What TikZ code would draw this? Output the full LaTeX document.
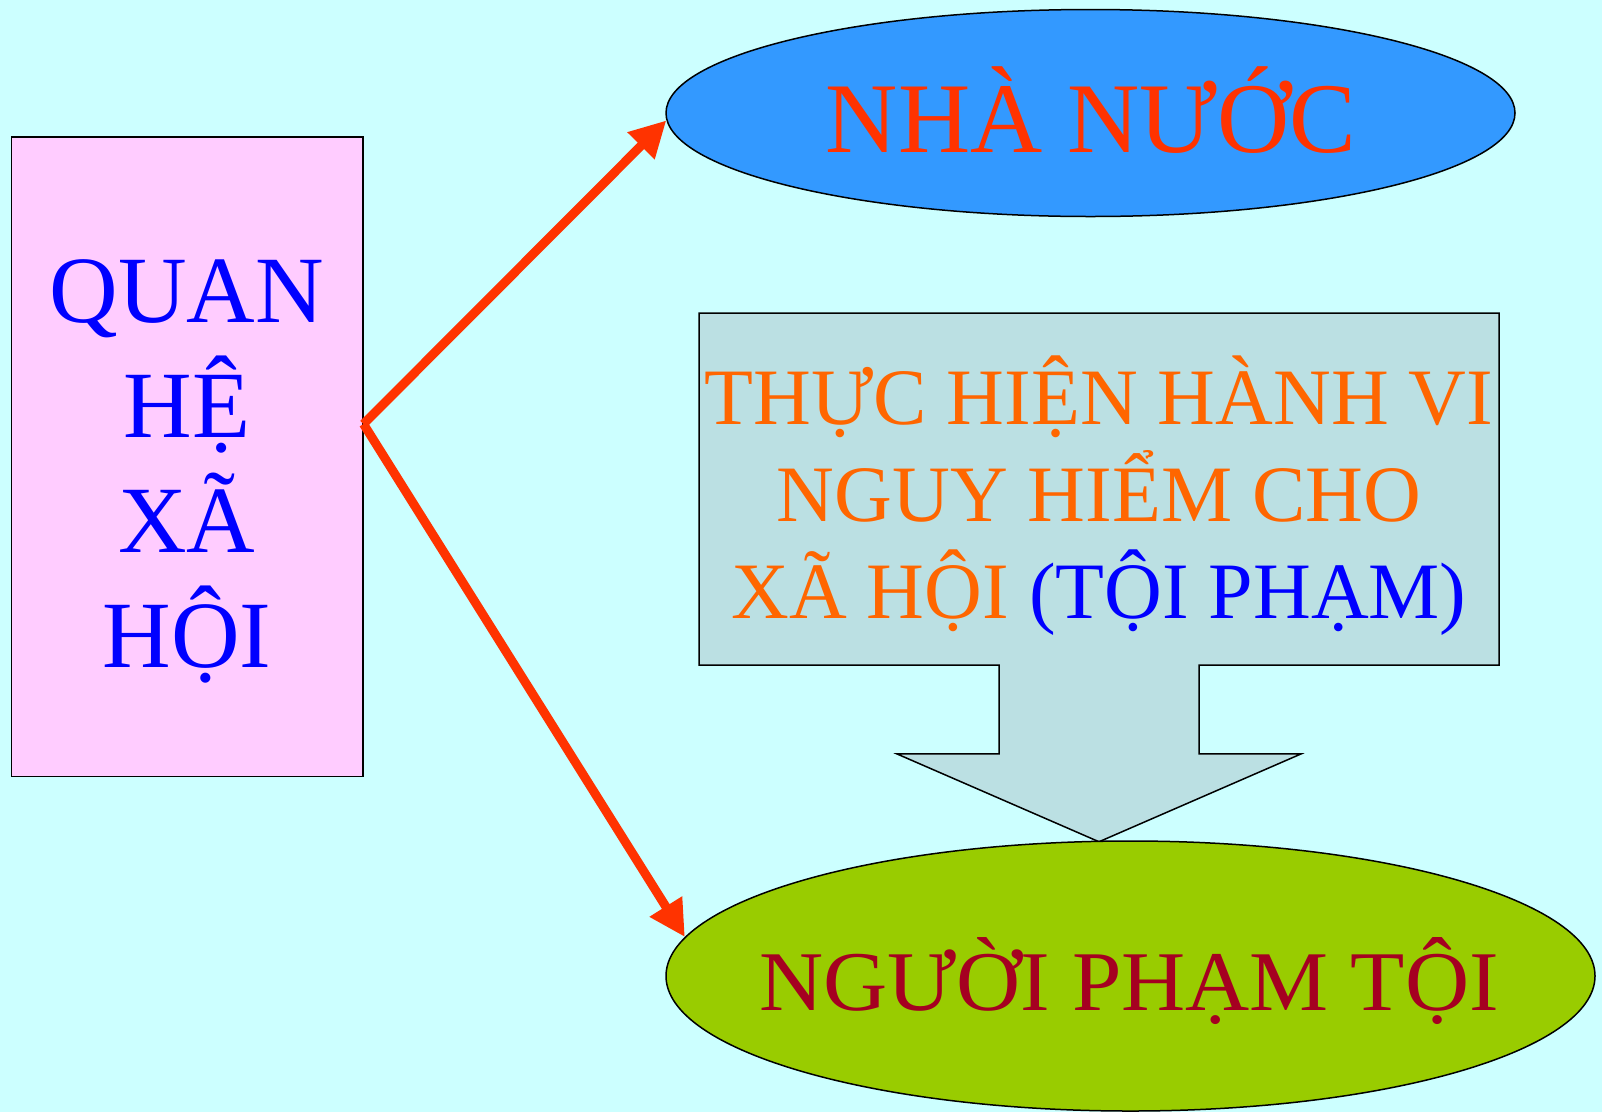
\documentclass[tikz,border=0pt]{standalone}
\usepackage{fontspec}
\setmainfont{Liberation Serif}
\usetikzlibrary{shapes.geometric, shapes.arrows, arrows.meta}

\definecolor{bgcyan}{HTML}{CCFFFF}
\definecolor{boxpink}{HTML}{FFCCFF}
\definecolor{ovalblue}{HTML}{3399FF}
\definecolor{ovalgreen}{HTML}{99CC00}
\definecolor{calloutgrey}{HTML}{BBE0E3}
\definecolor{arrowred}{HTML}{FF3300}
\definecolor{textorange}{HTML}{FF6600}
\definecolor{textblue}{HTML}{0000FF}
\definecolor{textdarkred}{HTML}{A50021}

\tikzset{
    outline/.style={draw=black, line width=1.5pt},
    oval/.style={outline, ellipse, inner sep=0pt},
    redarrow/.style={draw=arrowred, line width=9pt, -{Triangle[length=36pt, width=36pt]}},
}

\begin{document}
\begin{tikzpicture}[x=1pt, y=-1pt]

    % Background
    \useasboundingbox[fill=bgcyan] (0, 0) rectangle (1602, 1112);

    % Nodes
    \node at (187, 456.5) (quanhe) [outline, fill=boxpink, rectangle, minimum width=351.5pt, minimum height=639.5pt] {};
    \node at (187, 471) (quanhe_text) [text=textblue, align=center, font=\fontsize{95}{115}\selectfont] {QUAN\\HỆ\\XÃ\\HỘI};
    \node at (1090.5, 113) (nhanuoc) [oval, fill=ovalblue, minimum width=849pt, minimum height=207pt] {};
    \node at (1091, 152) (nhanuoc_text) [anchor=base, text=arrowred, font=\fontsize{100}{120}\selectfont] {NHÀ NƯỚC};
    \node at (1099, 489) (hanhvi) [outline, fill=calloutgrey, shape=arrow box, minimum width=800pt, minimum height=352pt, inner sep=0pt,
        arrow box arrows={south:176pt from border}, arrow box shaft width=200pt, arrow box head extend=102pt, arrow box tip angle=133,
        align=center, text=textorange, font=\fontsize{80}{97}\selectfont]
        {\rule{0pt}{82pt}THỰC HIỆN HÀNH VI\\NGUY HIỂM CHO\hspace*{0.5em}\\XÃ HỘI \textcolor{textblue}{(TỘI PHẠM)}};
    \node at (1130.5, 976) (nguoi) [oval, fill=ovalgreen, minimum width=929pt, minimum height=270pt] {};
    \node at (1129, 1010) (nguoi_text) [anchor=base, text=textdarkred, font=\fontsize{85}{100}\selectfont\addfontfeature{FakeStretch=1.045}] {NGƯỜI PHẠM TỘI};
    \coordinate (fork) at ([yshift=32.5pt]quanhe.east);

    % Arrows
    \draw[redarrow] (fork) -- (nhanuoc.181);
    \draw[redarrow] (fork) -- (nguoi.175);

\end{tikzpicture}
\end{document}
